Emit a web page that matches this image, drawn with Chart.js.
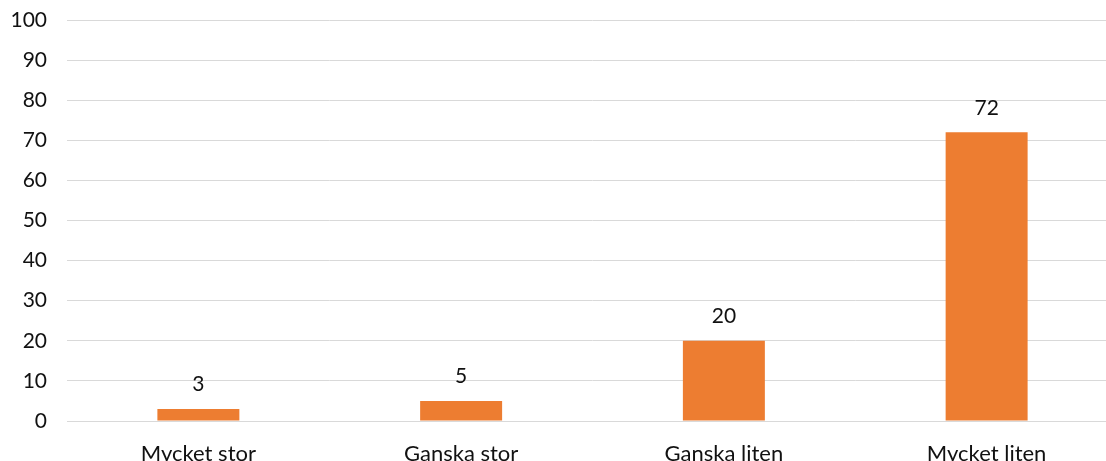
<!DOCTYPE html>
<html>
<head>
<meta charset="utf-8">
<script src="https://cdn.jsdelivr.net/npm/chart.js@4"></script>
<style>
  html, body { margin: 0; padding: 0; background: #fff; overflow: hidden; }
  #wrap { width: 1118px; height: 461px; }
</style>
</head>
<body>
<div id="wrap"><canvas id="chart" width="1118" height="461"></canvas></div>
<script>
const categories = ['Mycket stor', 'Ganska stor', 'Ganska liten', 'Mycket liten'];
const values = [3, 5, 20, 72];
const yTicks = [0, 10, 20, 30, 40, 50, 60, 70, 80, 90, 100];

// etiketter ovanför staplarna
const barLabels = {
    id: 'barLabels',
    afterDatasetsDraw(chart) {
        const ctx = chart.ctx;
        const meta = chart.getDatasetMeta(0);
        ctx.save();
        ctx.font = '21px Lato, "Open Sans", sans-serif';
        ctx.fillStyle = '#111';
        ctx.textAlign = 'center';
        ctx.textBaseline = 'bottom';
        meta.data.forEach((bar, i) => {
            ctx.fillText(String(values[i]), bar.x, bar.y - 14);
        });
        ctx.restore();
    }
};

new Chart(document.getElementById('chart').getContext('2d'), {
    type: 'bar',
    data: {
        labels: categories,
        datasets: [{
            data: values,
            backgroundColor: '#ed7d31',
            barPercentage: 0.312,
            categoryPercentage: 1
        }]
    },
    options: {
        responsive: false,
        animation: false,
        layout: { padding: { top: 20, right: 0, left: 0, bottom: 0 } },
        plugins: {
            legend: { display: false },
            tooltip: { enabled: false }
        },
        scales: {
            y: {
                min: 0,
                max: 100,
                afterBuildTicks(axis) {
                    axis.ticks = yTicks.map(v => ({ value: v }));
                },
                afterFit(axis) {
                    axis.width = 67;
                    axis.paddingTop = 0;
                    axis.paddingBottom = 0;
                },
                border: { display: false },
                grid: { color: '#d9d9d9', lineWidth: 1, drawTicks: false },
                ticks: {
                    color: '#111',
                    padding: 20,
                    font: { family: 'Lato, "Open Sans", sans-serif', size: 21 }
                }
            },
            x: {
                afterFit(axis) { axis.height = 40; },
                border: { color: '#d9d9d9' },
                grid: { display: false },
                ticks: {
                    color: '#111',
                    padding: 12,
                    maxRotation: 0,
                    font: { family: 'Lato, "Open Sans", sans-serif', size: 22 }
                }
            }
        }
    },
    plugins: [barLabels]
});
</script>
</body>
</html>
